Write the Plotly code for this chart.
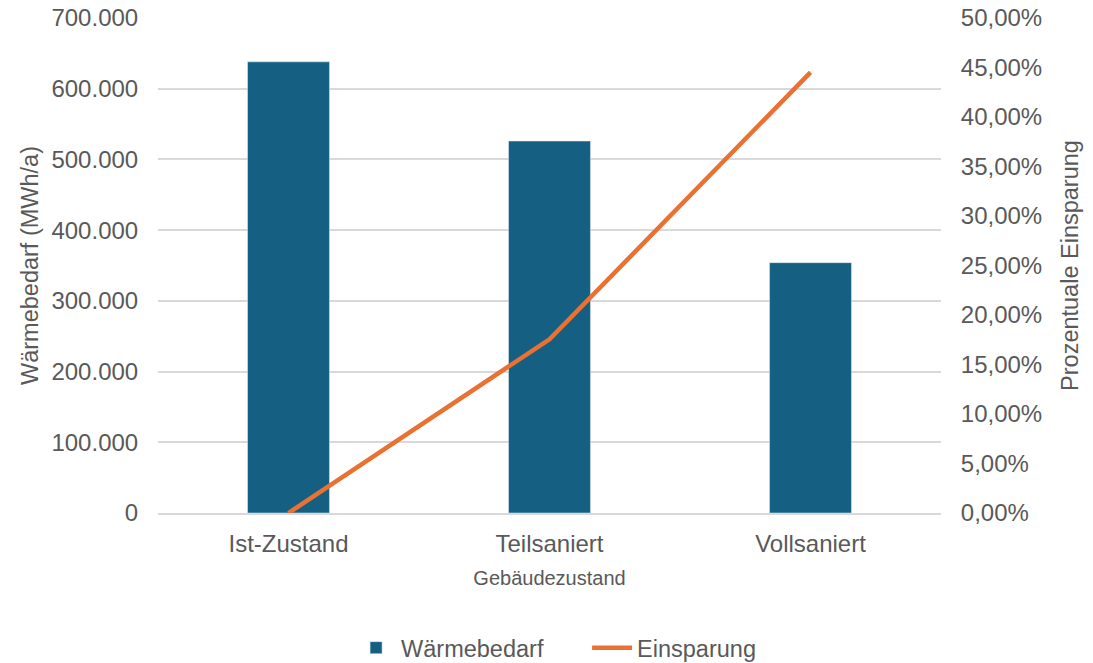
import plotly.graph_objects as go

categories = ["Ist-Zustand", "Teilsaniert", "Vollsaniert"]
waermebedarf = [638000, 526000, 354000]
einsparung = [0.0, 0.1755, 0.4451]

BAR = "#156082"
LINE = "#E97132"
GREY = "#595959"
FAM = "Liberation Sans, Arial, sans-serif"
TICKFONT = dict(family=FAM, size=24, color=GREY)
YTITLEFONT = dict(family=FAM, size=23.5, color=GREY)
XTITLEFONT = dict(family=FAM, size=20, color=GREY)
LEGFONT = dict(family=FAM, size=23.5, color=GREY)

fig = go.Figure()
fig.add_trace(go.Bar(x=categories, y=waermebedarf, name="Wärmebedarf",
                     marker=dict(color=BAR), width=0.314, yaxis="y"))
fig.add_trace(go.Scatter(x=categories, y=einsparung, name="Einsparung", mode="lines",
                         line=dict(color=LINE, width=4.5), yaxis="y2"))

fig.update_layout(
    width=1093, height=663,
    margin=dict(l=158, r=152, t=18, b=150, autoexpand=False),
    plot_bgcolor="white", paper_bgcolor="white",
    separators=",.",
    showlegend=True,
    legend=dict(orientation="h", x=0.548, xanchor="center", y=-0.228, yanchor="top",
                font=LEGFONT, itemwidth=40, tracegroupgap=0,
                entrywidth=181, entrywidthmode="pixels"),
    xaxis=dict(title=dict(text="Gebäudezustand", font=XTITLEFONT, standoff=15),
               tickfont=TICKFONT, showgrid=False, showline=True, linecolor="#d9d9d9",
               linewidth=1.5, ticks="outside", tickcolor="white", ticklen=8,
               automargin=False),
    yaxis=dict(title=dict(text="Wärmebedarf (MWh/a)", font=YTITLEFONT, standoff=6),
               range=[0, 700000], dtick=100000, tickformat=",d", tickfont=TICKFONT,
               showgrid=True, gridcolor="#d9d9d9", gridwidth=1.5, zeroline=False,
               ticks="outside", tickcolor="white", ticklen=14, automargin=False),
    yaxis2=dict(title=dict(text="Prozentuale Einsparung", font=YTITLEFONT, standoff=20),
                overlaying="y", side="right", range=[0, 0.5], dtick=0.05,
                tickformat=".2%", tickfont=TICKFONT, showgrid=False, zeroline=False,
                ticks="outside", tickcolor="white", ticklen=14, automargin=False),
)

fig.write_html("out.html")
